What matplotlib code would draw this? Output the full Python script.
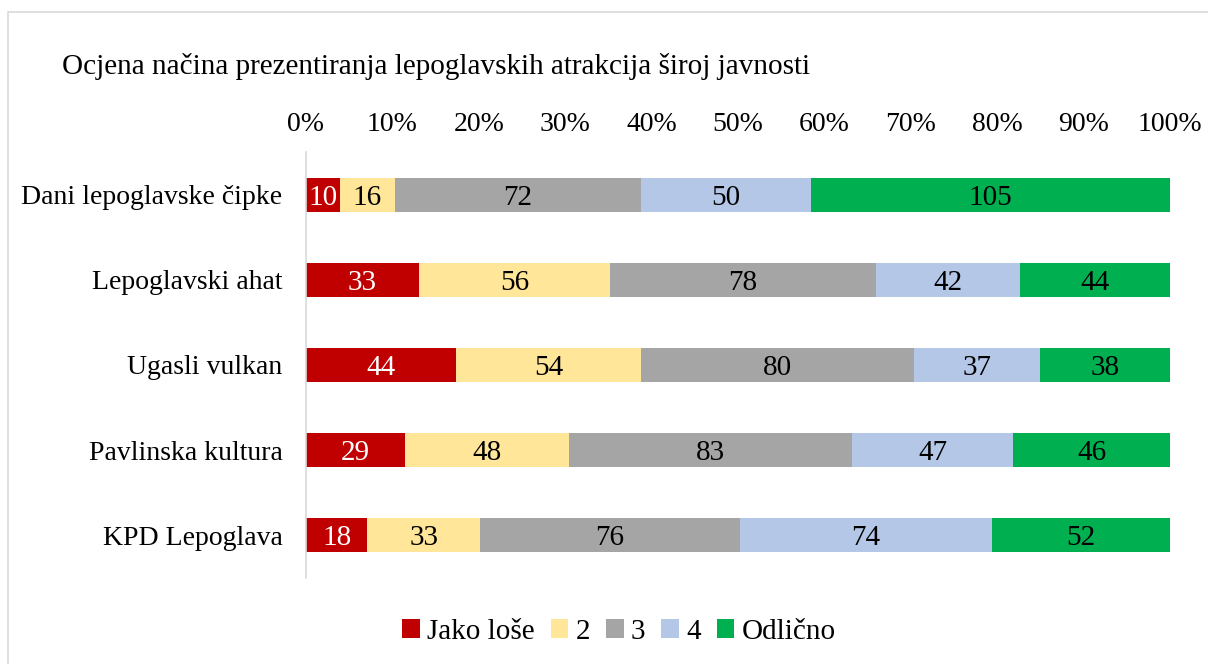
import matplotlib
matplotlib.use("Agg")
import matplotlib.pyplot as plt
from matplotlib.patches import Rectangle
import numpy as np

plt.rcParams["font.family"] = ["Liberation Serif", "DejaVu Serif"]

categories = ["Dani lepoglavske čipke", "Lepoglavski ahat", "Ugasli vulkan",
              "Pavlinska kultura", "KPD Lepoglava"]
series_names = ["Jako loše", "2", "3", "4", "Odlično"]
jako_lose = [10, 33, 44, 29, 18]
ocjena_2 = [16, 56, 54, 48, 33]
ocjena_3 = [72, 78, 80, 83, 76]
ocjena_4 = [50, 42, 37, 47, 74]
odlicno = [105, 44, 38, 46, 52]

colors = ["#C00000", "#FFE699", "#A5A5A5", "#B4C7E7", "#00B050"]
text_colors = ["white", "black", "black", "black", "black"]
FS = 20

data = np.array([jako_lose, ocjena_2, ocjena_3, ocjena_4, odlicno], dtype=float)
totals = data.sum(axis=0)
shares = data / totals * 100

fig = plt.figure(figsize=(12.08, 6.64), dpi=100)
ax = fig.add_axes([306 / 1208, 1 - 578 / 664, 864 / 1208, 426 / 664])

# outer chart border
fig.patches.append(Rectangle((8 / 1208, -0.01), 1.2, 1 - 12 / 664 + 0.01,
                             transform=fig.transFigure, fill=False,
                             edgecolor="#D9D9D9", linewidth=1.2))

y = np.arange(len(categories))
left = np.zeros(len(categories))
for i, name in enumerate(series_names):
    bars = ax.barh(y, shares[i], left=left, height=0.4, color=colors[i],
                   label=name, zorder=2)
    for j, b in enumerate(bars):
        ax.text(left[j] + shares[i][j] / 2, y[j], f"{int(data[i][j])}",
                ha="center", va="center_baseline", fontsize=21, color=text_colors[i])
    left += shares[i]

ax.set_xlim(0, 100)
ax.set_ylim(len(categories) - 0.5, -0.5)
ax.set_yticks(y)
ax.set_yticklabels(categories, fontsize=FS)
ax.set_xticks(np.arange(0, 101, 10))
ax.set_xticklabels([f"{v}%" for v in range(0, 101, 10)], fontsize=FS)
ax.xaxis.tick_top()
ax.tick_params(axis="x", length=0, pad=11)
ax.tick_params(axis="y", length=0, pad=17)
for s in ["top", "right", "bottom"]:
    ax.spines[s].set_visible(False)
ax.spines["left"].set_color("#D9D9D9")
ax.spines["left"].set_linewidth(1.2)

fig.text(62 / 1208, 1 - 63 / 664, "Ocjena načina prezentiranja lepoglavskih atrakcija široj javnosti",
         fontsize=21, ha="left", va="center_baseline")

fig.legend(loc="center", bbox_to_anchor=(619 / 1208, 1 - 632 / 664), ncol=5, frameon=False,
           fontsize=21, handlelength=0.6, handleheight=0.6, handletextpad=0.25,
           columnspacing=0.55)

fig.savefig("out.png", dpi=100)
